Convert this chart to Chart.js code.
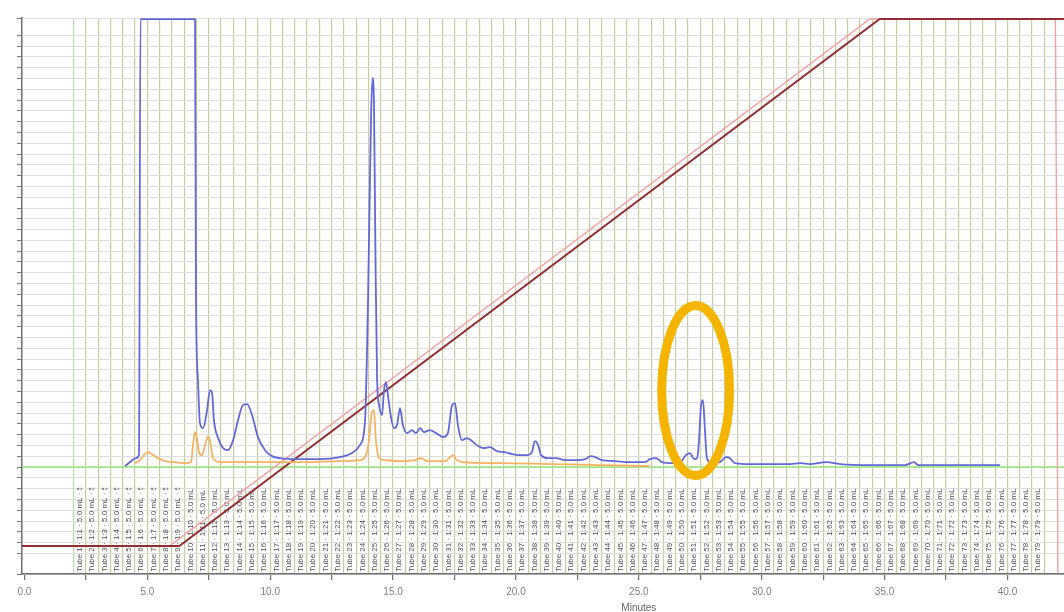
<!DOCTYPE html>
<html>
<head>
<meta charset="utf-8">
<script src="https://cdn.jsdelivr.net/npm/chart.js@4.4.1/dist/chart.umd.min.js"></script>
<style>
  html, body { margin: 0; padding: 0; background: #ffffff; }
  canvas { display: block; }
</style>
</head>
<body>
<canvas id="chromatogram" width="1064" height="612"></canvas>
<script>
// UV trace (blue), minutes vs. signal above baseline
const uvTime = [4.09, 4.29, 4.54, 4.66, 4.72, 6.94, 6.98, 7.06, 7.14, 7.27, 7.43, 7.55, 7.63, 7.71, 7.88, 8.08, 8.28, 8.49, 8.69, 8.89,
  9.06, 9.26, 9.50, 9.79, 10.07, 10.40, 11.21, 12.03, 12.84, 13.33, 13.65, 13.86, 13.98, 14.10, 14.16, 14.22, 14.28, 14.35, 14.43, 14.55,
  14.63, 14.71, 14.79, 14.92, 15.04, 15.16, 15.28, 15.40, 15.57, 15.77, 15.93, 16.10, 16.26, 16.50, 16.75, 17.03, 17.23, 17.40, 17.52, 17.64,
  17.80, 18.01, 18.21, 18.46, 18.70, 18.94, 19.23, 19.55, 19.84, 20.16, 20.45, 20.65, 20.77, 20.90, 21.02, 21.30, 21.63, 22.00, 22.40, 22.81,
  23.05, 23.22, 23.50, 24.03, 24.65, 25.25, 25.45, 25.70, 25.94, 26.35, 26.68, 26.92, 27.08, 27.25, 27.37, 27.45, 27.53, 27.61, 27.69, 27.77,
  27.98, 28.30, 28.55, 28.71, 28.91, 29.52, 30.34, 31.15, 31.56, 31.96, 32.62, 33.19, 34.41, 35.83, 36.20, 36.36, 37.66, 39.70];
const uvSignal = [0.09, 0.46, 0.83, 1.11, 41.5, 41.5, 15.47, 8.06, 4.08, 3.61, 5.28, 7.13, 6.95, 4.35, 2.69, 1.76, 1.57, 2.50, 4.35, 5.74,
  5.84, 4.82, 2.78, 1.57, 1.02, 0.83, 0.74, 0.74, 0.93, 1.30, 2.04, 4.35, 15.47, 32.14, 36.03, 34.00, 20.10, 8.06, 5.74, 4.82,
  7.13, 7.87, 6.67, 4.54, 3.61, 3.89, 5.47, 3.89, 3.15, 3.43, 3.15, 3.61, 3.24, 3.43, 3.15, 2.78, 3.15, 5.74, 5.93, 3.89,
  2.50, 2.69, 2.41, 1.95, 1.76, 1.85, 1.48, 1.39, 1.20, 1.11, 1.11, 1.39, 2.41, 2.04, 1.11, 0.83, 0.83, 0.65, 0.65, 0.74,
  1.02, 0.93, 0.65, 0.56, 0.46, 0.46, 0.74, 0.83, 0.46, 0.37, 0.46, 1.11, 1.30, 0.74, 0.83, 2.50, 5.74, 6.21, 3.43, 0.83,
  0.37, 0.46, 0.93, 0.83, 0.37, 0.28, 0.28, 0.28, 0.37, 0.28, 0.46, 0.28, 0.19, 0.19, 0.46, 0.19, 0.19, 0.19];

// Second wavelength trace (orange)
const visTime = [4.50, 4.70, 4.86, 5.03, 5.19, 5.43, 5.72, 6.13, 6.53, 6.78, 6.86, 6.94, 7.02, 7.10, 7.22, 7.35, 7.47, 7.55, 7.67, 7.96,
  9.58, 11.21, 12.84, 13.65, 13.90, 14.02, 14.14, 14.22, 14.30, 14.43, 14.67, 15.28, 15.89, 16.10, 16.42, 17.11, 17.32, 17.44, 17.56, 17.80,
  19.35, 21.38, 23.42, 25.45];
const visSignal = [0.37, 0.65, 1.11, 1.39, 1.20, 0.83, 0.56, 0.46, 0.37, 0.46, 2.04, 3.24, 2.69, 1.39, 1.11, 2.04, 2.87, 2.50, 0.83, 0.46,
  0.46, 0.46, 0.56, 0.65, 1.11, 2.50, 5.09, 5.28, 2.50, 0.83, 0.65, 0.56, 0.65, 0.83, 0.56, 0.56, 0.93, 1.11, 0.74, 0.46,
  0.37, 0.28, 0.19, 0.09];

// Programmed gradient (%B) and the delivered gradient
const gradientTime = [-0.1, 6.3, 34.8, 42.3];
const gradientPctB = [0, 0, 100, 100];
const deliveredTime = [-0.1, 5.9, 34.4, 41.95, 42.0, 42.05];
const deliveredPctB = [0, 0, 100, 100, 60, -5];

// Collection threshold / baseline
const baselineTime = [-0.1, 42.3];
const baselineSignal = [0, 0];

// Axis tick labels
const xTickValues = [0, 5, 10, 15, 20, 25, 30, 35, 40];
const xTickLabels = ['0.0', '5.0', '10.0', '15.0', '20.0', '25.0', '30.0', '35.0', '40.0'];
const xAxisTitle = 'Minutes';

// Fraction collection window (minutes) and tube labels
const fractionFirst = 2.0;
const fractionLast = 41.5;
const fractionWidth = 0.5;
const fractionLabels = [];
for (let n = 1; (fractionFirst + (n - 1) * fractionWidth) < fractionLast - 1e-6; n++) {
  fractionLabels.push('Tube ' + n + ' · 1:' + n + ' · 5.0 mL · 5');
}
// Vertical band (signal units) holding the fraction table text
const tableBottom = -9.7;
const tableTop = -1.9;

// Highlighted peak
const highlightTime = 27.31;
const highlightSignal = 7.09;
const highlightHalfWidth = 1.38;
const highlightHalfHeight = 7.87;

const pts = (xs, ys) => xs.map((x, i) => ({ x: x, y: ys[i] }));
const near = (a, b) => Math.abs(a - b) < 1e-6;
const isMultiple = (v, m) => near(v / m, Math.round(v / m));

const fractionTable = {
  id: 'fractionTable',
  beforeDatasetsDraw(chart) {
    const xs = chart.scales.x, ys = chart.scales.y, ctx = chart.ctx;
    const yb = ys.getPixelForValue(tableBottom);
    const yt = ys.getPixelForValue(tableTop);
    ctx.save();
    ctx.font = "8px 'Liberation Sans', Arial, sans-serif";
    ctx.fillStyle = 'rgba(60,60,60,0.9)';
    ctx.textAlign = 'left';
    ctx.textBaseline = 'middle';
    ctx.beginPath();
    ctx.rect(chart.chartArea.left, yt, chart.chartArea.right - chart.chartArea.left, yb - yt);
    ctx.clip();
    fractionLabels.forEach((label, i) => {
      const tMid = fractionFirst + (i + 0.5) * fractionWidth;
      const px = xs.getPixelForValue(tMid);
      ctx.save();
      ctx.translate(px, yb);
      ctx.rotate(-Math.PI / 2);
      ctx.fillText(label, 0, 0);
      ctx.restore();
    });
    ctx.restore();
  }
};

const peakHighlight = {
  id: 'peakHighlight',
  afterDatasetsDraw(chart) {
    const xs = chart.scales.x, ys = chart.scales.y, ctx = chart.ctx;
    const cx = xs.getPixelForValue(highlightTime);
    const cy = ys.getPixelForValue(highlightSignal);
    const rx = Math.abs(xs.getPixelForValue(highlightTime + highlightHalfWidth) - cx);
    const ry = Math.abs(ys.getPixelForValue(highlightSignal + highlightHalfHeight) - cy);
    ctx.save();
    ctx.beginPath();
    ctx.ellipse(cx, cy, rx, ry, 0, 0, Math.PI * 2);
    ctx.lineWidth = 9;
    ctx.strokeStyle = '#f4b400';
    ctx.stroke();
    ctx.restore();
  }
};

const axisTitle = {
  id: 'axisTitle',
  afterDraw(chart) {
    const xs = chart.scales.x, ctx = chart.ctx;
    ctx.save();
    ctx.font = "10px 'Liberation Sans', Arial, sans-serif";
    ctx.fillStyle = '#666';
    ctx.textAlign = 'center';
    ctx.textBaseline = 'top';
    ctx.fillText(xAxisTitle, xs.getPixelForValue(25), 603);
    ctx.restore();
  }
};

new Chart(document.getElementById('chromatogram'), {
  type: 'line',
  data: {
    datasets: [
      { data: pts(uvTime, uvSignal), borderColor: 'rgb(98,104,214)', borderWidth: 1.8,
        pointRadius: 0, cubicInterpolationMode: 'monotone', yAxisID: 'y' },
      { data: pts(visTime, visSignal), borderColor: 'rgb(246,178,96)', borderWidth: 1.8,
        pointRadius: 0, cubicInterpolationMode: 'monotone', yAxisID: 'y' },
      { data: pts(gradientTime, gradientPctB), borderColor: 'rgb(145,45,50)', borderWidth: 2,
        pointRadius: 0, tension: 0, yAxisID: 'y2' },
      { data: pts(deliveredTime, deliveredPctB), borderColor: 'rgb(242,160,160)', borderWidth: 1.4,
        pointRadius: 0, tension: 0, yAxisID: 'y2' },
      { data: pts(baselineTime, baselineSignal), borderColor: 'rgb(150,228,120)', borderWidth: 1.5,
        pointRadius: 0, tension: 0, yAxisID: 'y' }
    ]
  },
  options: {
    responsive: false,
    animation: false,
    events: [],
    layout: { padding: { top: 18, left: 0, right: 0, bottom: 0 } },
    plugins: { legend: { display: false }, tooltip: { enabled: false } },
    scales: {
      x: {
        type: 'linear', min: -0.1, max: 42.3,
        afterFit(s) { s.height = 38; },
        ticks: {
          stepSize: fractionWidth, autoSkip: false, maxRotation: 0, includeBounds: false,
          padding: 6, color: '#808080',
          font: { family: "'Liberation Sans', Arial, sans-serif", size: 10 },
          callback(v) {
            const i = xTickValues.findIndex(t => near(t, v));
            return i >= 0 ? xTickLabels[i] : '';
          }
        },
        grid: {
          lineWidth: 1.2, tickLength: 6, tickWidth: 1.2,
          color(c) {
            const v = c.tick ? c.tick.value : -1;
            if (near(v, fractionFirst)) return 'rgb(175,228,160)';
            if (v > fractionFirst && v < fractionLast + 1e-6) return 'rgba(180,186,125,0.75)';
            return 'rgba(0,0,0,0)';
          },
          tickColor(c) {
            const v = c.tick ? c.tick.value : -1;
            return isMultiple(v, 2.5) ? '#6e6e6e' : 'rgba(0,0,0,0)';
          }
        },
        border: { display: true, color: '#6e6e6e', width: 1.5 }
      },
      y: {
        type: 'linear', min: -9.9, max: 41.6,
        afterFit(s) { s.width = 22; },
        ticks: { stepSize: 1, display: false },
        grid: { color: 'rgb(222,222,222)', lineWidth: 1, tickLength: 5, tickColor: '#777' },
        border: { display: true, color: '#6e6e6e', width: 1.5 }
      },
      y2: { type: 'linear', display: false, min: -5.3, max: 100.2 }
    }
  },
  plugins: [fractionTable, peakHighlight, axisTitle]
});
</script>
</body>
</html>
